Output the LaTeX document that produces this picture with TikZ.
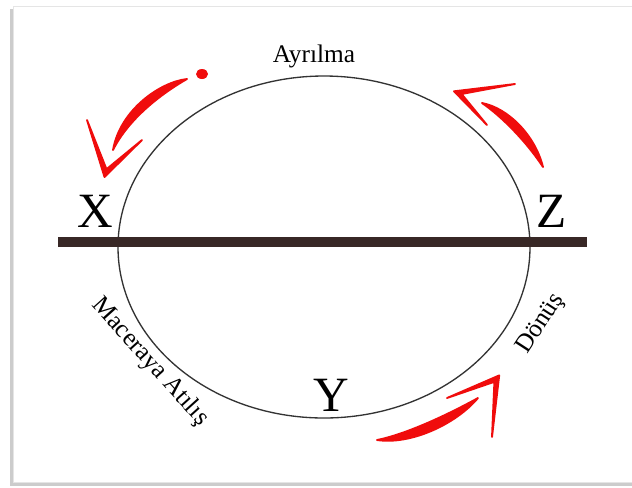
\documentclass[tikz,border=0pt]{standalone}
\usepackage{fontspec}
\setmainfont{Liberation Serif}

\definecolor{barbrown}{RGB}{56,40,38}
\definecolor{brushred}{RGB}{240,12,12}

\tikzstyle{letter} = [font=\fontsize{37}{37}\selectfont, anchor=base, inner sep=0pt]
\tikzstyle{stage} = [font=\fontsize{19}{19}\selectfont, inner sep=0pt]
\tikzstyle{brush} = [fill=brushred, draw=brushred, line width=1.4pt, line join=round, line cap=round]

\begin{document}
\begin{tikzpicture}[x=0.75pt, y=-0.75pt]
\useasboundingbox (0,0) rectangle (632,487);

% Frame
\fill[gray!40] (10,9) rectangle (640,486);
\fill[white] (13,6) rectangle (640,482);
\draw[gray!20, line width=0.6pt] (13,6) rectangle (640,482);

% Circle and axis
\draw[black!80, line width=1pt] (324,247) ellipse [x radius=206, y radius=171];
\draw[barbrown, line width=7.5pt] (58,241.5) -- (587,241.5);

% Nodes
\node (x) [letter] at (95,227) {X};
\node (z) [letter] at (552,227) {Z};
\node (y) [letter] at (331,411) {Y};
\node (ayrilma) [stage, anchor=base] at (314,62) {Ayrılma};
\node (macera) [stage, rotate=-48] at (150,362) {Maceraya Atılış};
\node (donus) [stage, rotate=57] at (541,324) {Dönüş};

% Red arrows
\fill[brushred] (202,74) ellipse [x radius=6, y radius=5];
\filldraw[brush] (187,79) .. controls (160,82) and (120,110) .. (113,150)
  .. controls (130,116) and (166,91) .. (187,79) -- cycle;
\filldraw[brush] (87,120) -- (104.5,177) -- (142,140) -- (106.5,169.2) -- cycle;

\filldraw[brush] (543,167) .. controls (535,135) and (508,108) .. (482,103)
  .. controls (501,116) and (526,141) .. (543,167) -- cycle;
\filldraw[brush] (515,84) -- (454,91.3) -- (487,125) -- (461.6,94) -- cycle;

\filldraw[brush] (377,440) .. controls (410,445) and (455,425) .. (478,398)
  .. controls (449,414) and (407,434) .. (377,440) -- cycle;
\filldraw[brush] (447,398) -- (499.2,375.4) -- (492,437) -- (494.4,381.8) -- cycle;

\end{tikzpicture}
\end{document}
